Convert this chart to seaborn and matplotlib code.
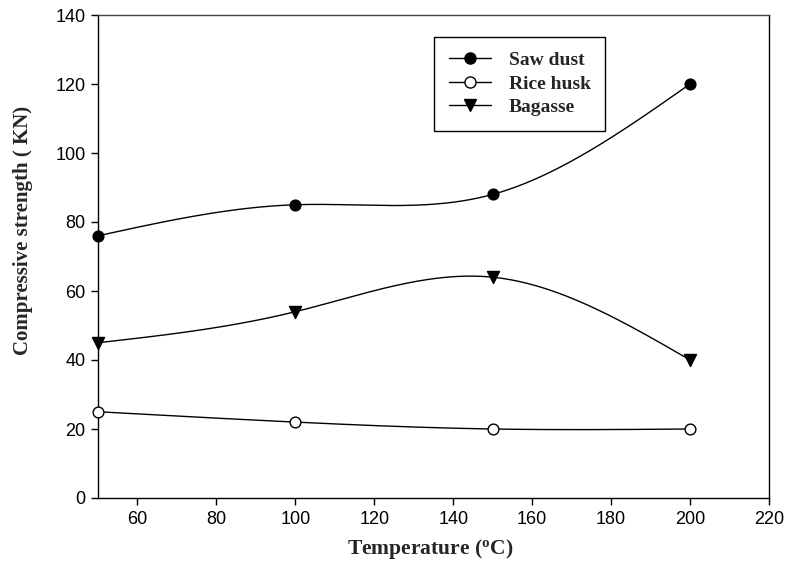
import numpy as np
import pandas as pd
import matplotlib
matplotlib.use("Agg")
import matplotlib.pyplot as plt
from matplotlib.lines import Line2D
import seaborn as sns

temperature = [50, 100, 150, 200]
saw_dust = [76, 85, 88, 120]
rice_husk = [25, 22, 20, 20]
bagasse = [45, 54, 64, 40]
x_ticks = [60, 80, 100, 120, 140, 160, 180, 200, 220]
y_ticks = [0, 20, 40, 60, 80, 100, 120, 140]


def natural_spline(x, y, num=300):
    x = np.asarray(x, float)
    y = np.asarray(y, float)
    n = len(x)
    h = np.diff(x)
    A = np.zeros((n, n))
    b = np.zeros(n)
    A[0, 0] = 1
    A[-1, -1] = 1
    for i in range(1, n - 1):
        A[i, i - 1] = h[i - 1]
        A[i, i] = 2 * (h[i - 1] + h[i])
        A[i, i + 1] = h[i]
        b[i] = 6 * ((y[i + 1] - y[i]) / h[i] - (y[i] - y[i - 1]) / h[i - 1])
    M = np.linalg.solve(A, b)
    xs = np.linspace(x[0], x[-1], num)
    ys = np.empty_like(xs)
    for k, xv in enumerate(xs):
        i = min(np.searchsorted(x, xv, side="right") - 1, n - 2)
        t1 = x[i + 1] - xv
        t0 = xv - x[i]
        ys[k] = (M[i] * t1 ** 3 / (6 * h[i]) + M[i + 1] * t0 ** 3 / (6 * h[i])
                 + (y[i] / h[i] - M[i] * h[i] / 6) * t1
                 + (y[i + 1] / h[i] - M[i + 1] * h[i] / 6) * t0)
    return xs, ys


sns.set_theme(style="ticks")
plt.rcParams["font.family"] = ["Liberation Sans", "DejaVu Sans"]
plt.rcParams["mathtext.fontset"] = "custom"
plt.rcParams["mathtext.rm"] = "Liberation Serif:bold"
plt.rcParams["mathtext.it"] = "Liberation Serif:bold"
plt.rcParams["mathtext.bf"] = "Liberation Serif:bold"

fig = plt.figure(figsize=(7.87, 5.64), dpi=100)
ax = fig.add_axes([98 / 787, 1 - 498 / 564, (769 - 98) / 787, (498 - 15) / 564])

series = [
    ("Saw dust", saw_dust, dict(marker="o", markerfacecolor="black")),
    ("Rice husk", rice_husk, dict(marker="o", markerfacecolor="white")),
    ("Bagasse", bagasse, dict(marker="v", markerfacecolor="black")),
]

handles = []
for name, vals, mk in series:
    xs, ys = natural_spline(temperature, vals)
    curve = pd.DataFrame({"x": xs, "y": ys})
    sns.lineplot(data=curve, x="x", y="y", ax=ax, color="black", linewidth=1.0,
                 sort=False, estimator=None)
    pts = pd.DataFrame({"x": temperature, "y": vals})
    sns.scatterplot(data=pts, x="x", y="y", ax=ax, marker=mk["marker"],
                    color=mk["markerfacecolor"], edgecolor="black", linewidth=1.0,
                    s=60 if mk["marker"] == "o" else 75, zorder=5, clip_on=False)
    handles.append(Line2D([], [], color="black", linewidth=1.0, marker=mk["marker"],
                          markerfacecolor=mk["markerfacecolor"], markeredgecolor="black",
                          markersize=8))

ax.set_xlim(50, 220)
ax.set_ylim(0, 140)
ax.set_xticks(x_ticks)
ax.set_yticks(y_ticks)
ax.tick_params(axis="both", direction="out", length=5, width=1, labelsize=13,
               colors="black", pad=4)
for sp in ax.spines.values():
    sp.set_visible(True)
    sp.set_color("black")
    sp.set_linewidth(1.0)
ax.spines["top"].set_color("#444444")

ax.set_xlabel(r"Temperature ($^{\rm o}$C)", fontsize=15.5, fontweight="bold",
              family="Liberation Serif")
ax.set_ylabel("Compressive strength ( KN)", fontsize=15, fontweight="bold",
              family="Liberation Serif")
ax.xaxis.set_label_coords(0.495, -0.081)
ax.yaxis.set_label_coords(-0.097, 0.553)

leg = ax.legend(handles, ["Saw dust", "Rice husk", "Bagasse"],
                loc="upper left", bbox_to_anchor=((434 - 98) / 671, (498 - 37) / 483),
                frameon=True, fancybox=False, edgecolor="black", framealpha=1,
                prop={"family": "Liberation Serif", "weight": "bold", "size": 14},
                handlelength=2.2, handletextpad=0.9, borderpad=0.75, labelspacing=0.3,
                borderaxespad=0)
leg.get_frame().set_linewidth(1.0)

fig.savefig("out.png", dpi=100)
